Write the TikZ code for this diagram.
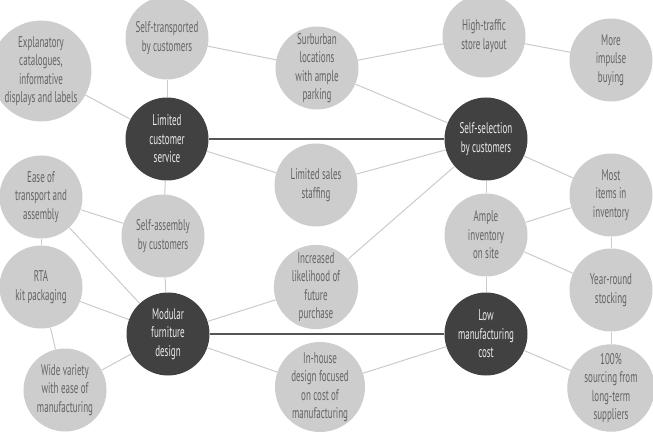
\documentclass[tikz,border=0pt]{standalone}
\usepackage{fontspec}
\setmainfont{PT Sans}[FakeStretch=0.58]
\definecolor{lightc}{HTML}{CDCDCD}
\definecolor{darkc}{HTML}{414141}
\definecolor{txtc}{HTML}{646464}
\definecolor{linec}{HTML}{CBCBCB}
\definecolor{thickc}{HTML}{555555}
\tikzset{
  base/.style={circle, minimum size=83pt, inner sep=0pt, align=center,
    font=\fontsize{15.5}{18.5}\selectfont},
  lightnode/.style={base, fill=lightc, text=txtc},
  darknode/.style={base, fill=darkc, text=white!92!black},
  thin/.style={draw=linec, line width=1pt},
  thick/.style={draw=thickc, line width=1.8pt}
}
\begin{document}
\begin{tikzpicture}[x=1pt,y=-1pt]
\useasboundingbox (0,0) rectangle (653,438);
\clip (0,0) rectangle (653,438);
% nodes
\node[darknode] (lcs) at (167,139) {Limited\\customer\\service};
\node[darknode] (ssc) at (486,139) {Self-selection\\by customers};
\node[darknode] (mfd) at (168,334) {Modular\\furniture\\design};
\node[darknode] (lmc) at (486,334) {Low\\manufacturing\\cost};
\node[lightnode] (stc) at (167,38) {Self-transported\\by customers};
\node[lightnode] (exp) at (41,71) {Explanatory\\catalogues,\\informative\\displays and labels};
\node[lightnode] (sub) at (317,68) {Surburban\\locations\\with ample\\parking};
\node[lightnode] (htl) at (484,36) {High-traffic\\store layout};
\node[lightnode] (mib) at (611,60) {More\\impulse\\buying};
\node[lightnode] (lss) at (316,185) {Limited sales\\staffing};
\node[lightnode] (eta) at (41,197) {Ease of\\transport and\\assembly};
\node[lightnode] (sab) at (163,236) {Self-assembly\\by customers};
\node[lightnode] (rta) at (41,287) {RTA\\kit packaging};
\node[lightnode] (wve) at (65,390) {Wide variety\\with ease of\\manufacturing};
\node[lightnode] (ilf) at (316,287) {Increased\\likelihood of\\future\\purchase};
\node[lightnode] (ihd) at (320,387) {In-house\\design focused\\on cost of\\manufacturing};
\node[lightnode] (ais) at (486,235) {Ample\\inventory\\on site};
\node[lightnode] (mii) at (611,195) {Most\\items in\\inventory};
\node[lightnode] (yrs) at (611,290) {Year-round\\stocking};
\node[lightnode] (src) at (611,388) {100\%\\sourcing from\\long-term\\suppliers};
% connectors
\draw[thick] (lcs) -- (ssc);
\draw[thick] (mfd) -- (lmc);
\draw[thin] (lcs) -- (stc);
\draw[thin] (lcs) -- (exp);
\draw[thin] (lcs) -- (lss);
\draw[thin] (lcs) -- (sab);
\draw[thin] (stc) -- (sub);
\draw[thin] (sub) -- (htl);
\draw[thin] (sub) -- (ssc);
\draw[thin] (htl) -- (mib);
\draw[thin] (ssc) -- (lss);
\draw[thin] (ssc) -- (mii);
\draw[thin] (ssc) -- (ais);
\draw[thin] (ssc) -- (ilf);
\draw[thin] (ais) -- (mii);
\draw[thin] (ais) -- (yrs);
\draw[thin] (ais) -- (lmc);
\draw[thin] (mii) -- (yrs);
\draw[thin] (yrs) -- (src);
\draw[thin] (lmc) -- (src);
\draw[thin] (lmc) -- (ihd);
\draw[thin] (mfd) -- (ilf);
\draw[thin] (mfd) -- (ihd);
\draw[thin] (mfd) -- (sab);
\draw[thin] (mfd) -- (rta);
\draw[thin] (mfd) -- (wve);
\draw[thin] (mfd) -- (eta);
\draw[thin] (eta) -- (sab);
\draw[thin] (eta) -- (rta);
\draw[thin] (rta) -- (wve);
\end{tikzpicture}
\end{document}
